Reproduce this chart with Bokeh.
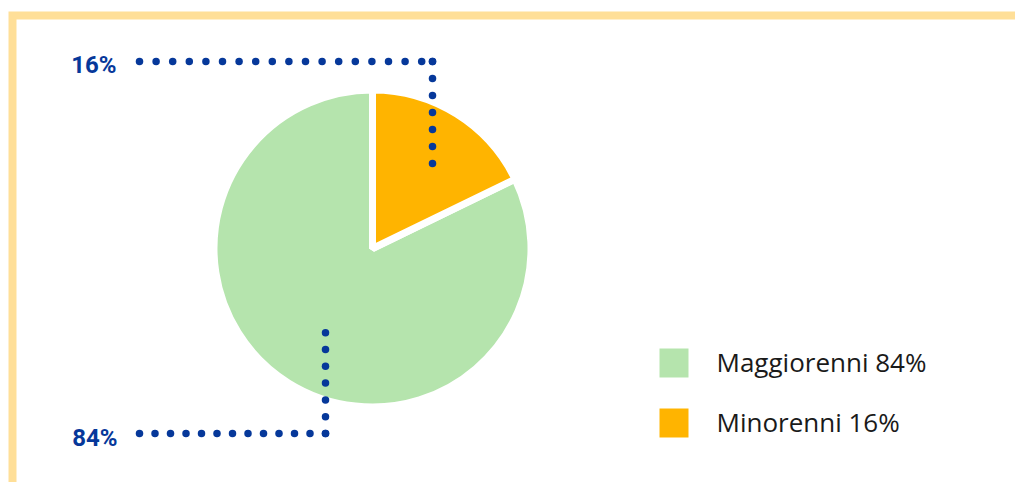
import numpy as np
from bokeh.plotting import figure
from bokeh.models import Range1d, Legend, LegendItem, ColumnDataSource
from bokeh.core.properties import value
from bokeh.embed import file_html
from bokeh.resources import INLINE

# ---- data ----
categories = ["Maggiorenni", "Minorenni"]
shares = [82.2, 17.8]            # slice shares as drawn in the picture
pct_labels = ["84%", "16%"]
legend_labels = ["Maggiorenni 84%", "Minorenni 16%"]
colors = ["#b5e4ad", "#ffb400"]

# ---- layout constants (pixel space of the picture) ----
W, H = 1015, 482
OX, OY = 0, 0
BLUE = "#06389a"
BORDER = "#ffdf98"


def Y(y_img):
    return H + OY - np.asarray(y_img, dtype=float)


CX, CY, R = 372, float(Y(248)), 158.5

# slices clockwise from 12 o'clock: Minorenni first, then Maggiorenni
order = [1, 0]
a0 = [0.0] * len(shares)
a1 = [0.0] * len(shares)
cum = 0.0
for i in order:
    a1[i] = float(np.radians(90 - cum * 3.6))
    a0[i] = float(np.radians(90 - (cum + shares[i]) * 3.6))
    cum += shares[i]

src = ColumnDataSource(dict(cat=categories, share=shares, a0=a0, a1=a1,
                            color=colors, label=legend_labels))

p = figure(width=W, height=H, x_range=Range1d(OX, OX + W), y_range=Range1d(0, H),
           output_backend="svg", toolbar_location=None, min_border=0,
           x_axis_location=None, y_axis_location=None)
p.grid.visible = False
p.outline_line_color = None
p.background_fill_color = "white"
p.border_fill_color = "white"

# yellow frame (top and left edges)
p.line(x=[12, 12, OX + W + 20], y=list(Y([520, 15, 15])), line_width=8,
       line_color=BORDER, line_join="miter")

# pie
w = p.wedge(x=CX, y=CY, radius=R, start_angle="a0", end_angle="a1",
            fill_color="color", line_color="white", line_width=7, source=src)

# dotted leader lines (dots from the label toward the slice)
def dots(x0, y0, step, n, horizontal=True):
    k = np.arange(n)
    if horizontal:
        return x0 + step * k, np.full(n, y0, dtype=float)
    return np.full(n, x0, dtype=float), y0 + step * k

segs = [
    dots(139, 61, 16.6, 18, True),
    (np.array([432.0]), np.array([61.0])),
    dots(432, 61, 17, 7, False),
    dots(139, 433, 15.5, 13, True),
    dots(325, 433, -16.8, 7, False),
]
dx = np.concatenate([s[0] for s in segs])
dy = np.concatenate([s[1] for s in segs])
p.scatter(x=dx, y=Y(dy), size=7.5, marker="circle", fill_color=BLUE, line_color=None)

# percentage labels
p.text(x=[116, 117], y=list(Y([64, 437])), text=[pct_labels[1], pct_labels[0]],
       text_align="right", text_baseline="alphabetic",
       text_font=value("Roboto"), text_font_style="bold",
       text_font_size="24px", text_color=BLUE)

# legend
items = [LegendItem(label=legend_labels[i], renderers=[w], index=i)
         for i in range(len(categories))]
legend = Legend(items=items, location=(650.5, float(Y(444.5))),
                glyph_width=45, glyph_height=45, label_standoff=21, spacing=15,
                padding=0, margin=0, border_line_color=None,
                background_fill_alpha=0,
                label_text_font="Open Sans", label_text_font_size="26px",
                label_text_color="#1a1a1a")
p.add_layout(legend)

open("out.html", "w").write(file_html(p, INLINE))
